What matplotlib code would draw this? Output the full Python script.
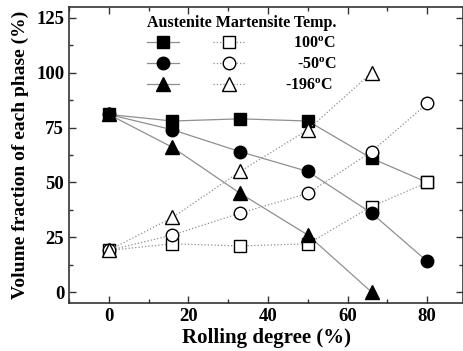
import matplotlib
matplotlib.use("Agg")
import matplotlib.pyplot as plt
from matplotlib.lines import Line2D
from matplotlib.ticker import MultipleLocator

plt.rcParams['font.family'] = ['Liberation Serif', 'DejaVu Serif']
plt.rcParams['font.weight'] = 'bold'
plt.rcParams['mathtext.fontset'] = 'custom'
plt.rcParams['mathtext.rm'] = 'Liberation Serif:bold'
plt.rcParams['mathtext.it'] = 'Liberation Serif:bold'
plt.rcParams['mathtext.bf'] = 'Liberation Serif:bold'

rolling = [0, 16, 33, 50, 66, 80]
rolling_196 = [0, 16, 33, 50, 66]

aus_100 = [81, 78, 79, 78, 61, 50]
mar_100 = [19, 22, 21, 22, 39, 50]
aus_50 = [81, 74, 64, 55, 36, 14]
mar_50 = [19, 26, 36, 45, 64, 86]
aus_196 = [81, 66, 45, 26, 0]
mar_196 = [19, 34, 55, 74, 100]

temps = ['  100$^{\\mathrm{o}}$C', '   -50$^{\\mathrm{o}}$C', '-196$^{\\mathrm{o}}$C']

fig = plt.figure(figsize=(4.64, 3.51), dpi=100)
ax = fig.add_axes([0.1487, 0.1368, 0.8493, 0.8432])

lc = '#8f8f8f'
ms = 9
series = [
    (rolling, aus_100, mar_100, 's'),
    (rolling, aus_50, mar_50, 'o'),
    (rolling_196, aus_196, mar_196, '^'),
]
for x, a, m, mk in series:
    msz = ms + 1 if mk == '^' else ms
    ax.plot(x, a, '-', color=lc, lw=0.9, marker=mk, ms=msz,
            mfc='black', mec='black', mew=1.0)
    ax.plot(x, m, ':', color=lc, lw=0.9, marker=mk, ms=msz,
            mfc='white', mec='black', mew=1.0)

ax.set_xlim(-10, 89)
ax.set_ylim(-5, 130)
ax.xaxis.set_major_locator(MultipleLocator(20))
ax.xaxis.set_minor_locator(MultipleLocator(10))
ax.yaxis.set_major_locator(MultipleLocator(25))
ax.yaxis.set_minor_locator(MultipleLocator(12.5))
ax.tick_params(which='both', direction='in', top=True, right=True,
               labelsize=13.5, color='#333333', width=1.0)
ax.tick_params(which='major', length=5)
ax.tick_params(which='minor', length=3)
for s in ax.spines.values():
    s.set_linewidth(1.2)
    s.set_color('#333333')

ax.set_xlabel('Rolling degree (%)', fontsize=15, fontweight='bold', labelpad=2)
ax.set_ylabel('Volume fraction of each phase (%)', fontsize=14,
              fontweight='bold', labelpad=5)

handles = []
for _, _, _, mk in series:
    msz = ms + 1 if mk == '^' else ms
    handles.append(Line2D([], [], ls='-', color=lc, lw=0.9, marker=mk,
                          ms=msz, mfc='black', mec='black'))
for _, _, _, mk in series:
    msz = ms + 1 if mk == '^' else ms
    handles.append(Line2D([], [], ls=':', color=lc, lw=0.9, marker=mk,
                          ms=msz, mfc='white', mec='black'))
labels = ['', '', ''] + temps
leg = ax.legend(handles, labels, ncol=2, loc='upper left',
                bbox_to_anchor=(0.17, 1.01), frameon=False,
                title='Austenite Martensite Temp.',
                title_fontproperties={'weight': 'bold', 'size': 11.5},
                prop={'weight': 'bold', 'size': 11.5},
                handlelength=2.0, handletextpad=2.5, columnspacing=-0.4,
                labelspacing=0.3, borderaxespad=0.3)
leg._legend_box.align = 'left'

fig.savefig('out.png', dpi=100)
